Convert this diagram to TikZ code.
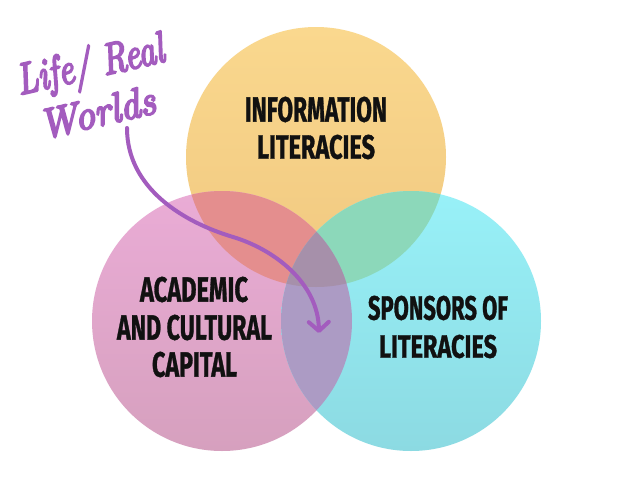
\documentclass[tikz,border=0pt]{standalone}
\usepackage{fontspec}
\usepackage{graphicx}
\setmainfont{Fira Sans}[BoldFeatures={FakeBold=1.2}]
\newfontfamily\handfont{Latin Modern Roman}[FakeBold=5]
\usetikzlibrary{arrows.meta}
\definecolor{ytop}{RGB}{250,216,142}
\definecolor{ybot}{RGB}{240,200,128}
\definecolor{ptop}{RGB}{234,172,214}
\definecolor{pbot}{RGB}{214,160,190}
\definecolor{ctop}{RGB}{152,241,248}
\definecolor{cbot}{RGB}{140,218,226}
\definecolor{yp}{RGB}{228,142,142}
\definecolor{yc}{RGB}{140,216,186}
\definecolor{pc}{RGB}{172,155,196}
\definecolor{ypc}{RGB}{166,144,170}
\definecolor{arrowpurple}{RGB}{163,92,190}
\definecolor{ink}{RGB}{17,17,17}
\newcommand\fitline[3]{\resizebox{#1pt}{#2pt}{\bfseries #3}}
\begin{document}
\begin{tikzpicture}[x=1pt,y=-1pt,
  label/.style={inner sep=0pt,outer sep=0pt,text=ink},
  script/.style={inner sep=0pt,outer sep=0pt,anchor=base,text=arrowpurple,rotate=13,font=\handfont\itshape},
  connector/.style={draw=arrowpurple,line width=4pt,line cap=round,
    -{Straight Barb[length=9pt,width=20pt,round]}}]
\useasboundingbox (0,0) rectangle (638,479);
\fill[white] (0,0) rectangle (638,479);
% circles
\def\Ctop{(316,157) circle[radius=130]}
\def\Cleft{(222,321) circle[radius=130]}
\def\Cright{(411,321) circle[radius=130]}
\shade[top color=ytop,bottom color=ybot] \Ctop;
\shade[top color=ptop,bottom color=pbot] \Cleft;
\shade[top color=ctop,bottom color=cbot] \Cright;
\begin{scope}
  \clip \Ctop; \fill[yp] \Cleft;
\end{scope}
\begin{scope}
  \clip \Ctop; \fill[yc] \Cright;
\end{scope}
\begin{scope}
  \clip \Cleft; \fill[pc] \Cright;
\end{scope}
\begin{scope}
  \clip \Ctop; \clip \Cleft; \fill[ypc] \Cright;
\end{scope}
% labels
\node[label] (info1) at (316,109.5) {\fitline{142}{25}{INFORMATION}};
\node[label] (info2) at (316,147) {\fitline{118}{24}{LITERACIES}};
\node[label] (acad1) at (194,289.5) {\fitline{108}{25}{ACADEMIC}};
\node[label] (acad2) at (194.5,327.5) {\fitline{155}{25}{AND CULTURAL}};
\node[label] (acad3) at (194.5,364.5) {\fitline{85}{25}{CAPITAL}};
\node[label] (spon1) at (438,308) {\fitline{140}{24}{SPONSORS OF}};
\node[label] (spon2) at (438,346.5) {\fitline{118}{23}{LITERACIES}};
% script label
\node[script] (life) at (93,78) {\resizebox{150pt}{33pt}{Life/ Real}};
\node[script] (worlds) at (100,126) {\resizebox{118pt}{29pt}{Worlds}};
% arrow
\coordinate (astart) at (127,128);
\coordinate (amid) at (233,237);
\coordinate (aend) at (319,333);
\draw[connector] (astart) .. controls (127,188) and (183,222) .. (amid)
  .. controls (273,249) and (318,282) .. (aend);
\end{tikzpicture}
\end{document}
